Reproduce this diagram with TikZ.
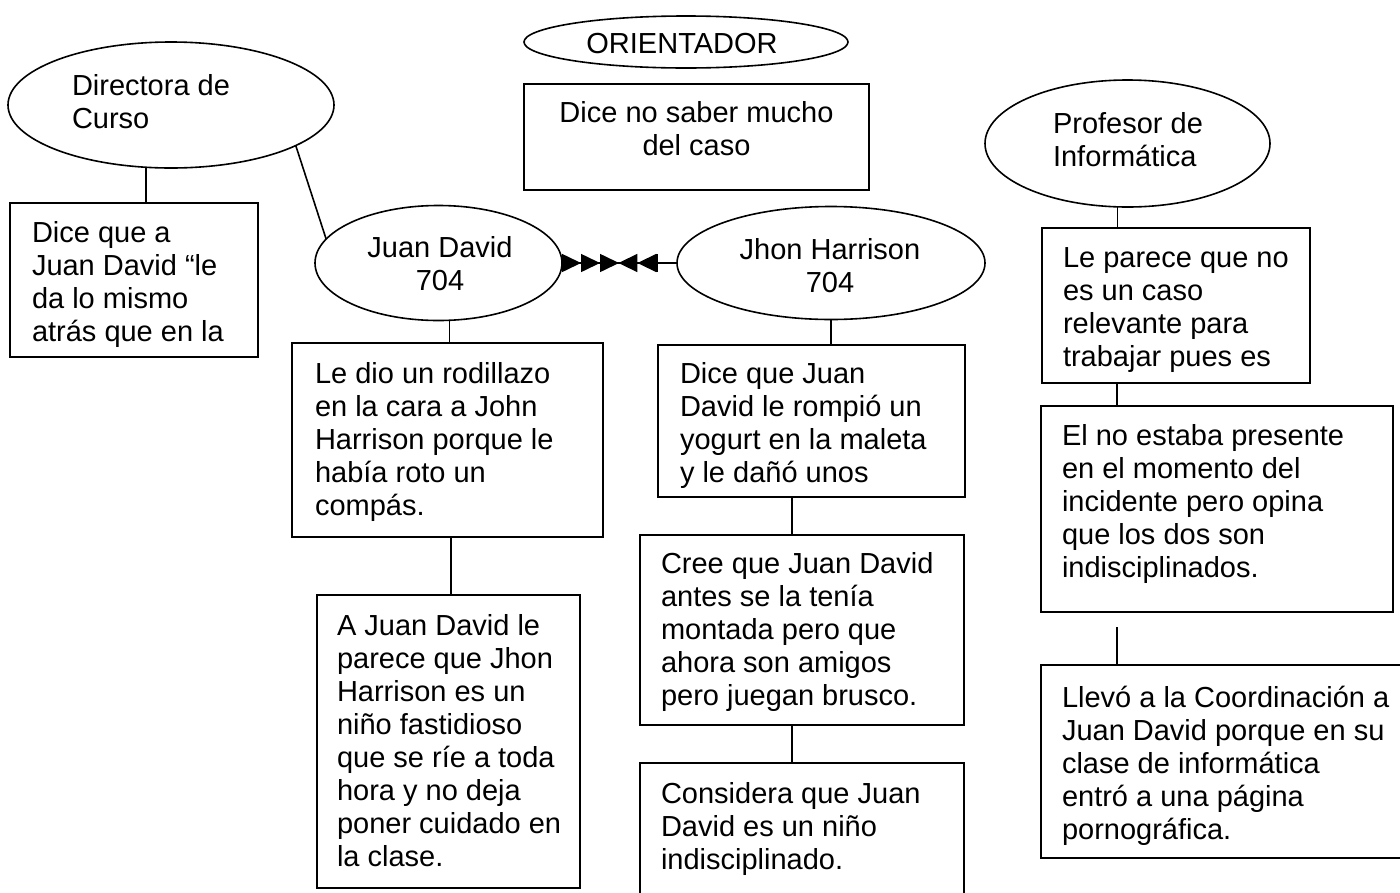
\documentclass[tikz,border=0pt]{standalone}
\usepackage{fontspec}
\setmainfont{Liberation Sans}
\usetikzlibrary{shapes.geometric,arrows.meta,calc}
\begin{document}
\begin{tikzpicture}[x=1pt,y=-1pt,line width=1.6pt,
  ell/.style={draw,ellipse,inner sep=0pt,outer sep=0pt},
  box/.style={draw,rectangle,inner sep=0pt,outer sep=0pt,anchor=north west},
  txt/.style={inner sep=0pt,outer sep=0pt,align=left,anchor=north west,font=\fontsize{29}{33}\selectfont},
  ctxt/.style={txt,align=center,anchor=north},
  conn/.style={line width=1.6pt}]
\fill[white] (0,0) rectangle (1400,892);
\useasboundingbox (0,0) rectangle (1400,892);

% ellipses
\node[ell,minimum width=326pt,minimum height=126pt] (dir) at (171,105) {};
\node[ell,minimum width=324pt,minimum height=52pt] (ori) at (686,42) {};
\node[ell,minimum width=247pt,minimum height=115pt] (jd) at (438.5,263) {};
\node[ell,minimum width=308pt,minimum height=113pt] (jh) at (831,263) {};
\node[ell,minimum width=285pt,minimum height=127pt] (prof) at (1127.5,143.5) {};

\node[txt] (dirt) at (72,74.6) {Directora de\\Curso};
\node[ctxt] (orit) at (682,33.6) {ORIENTADOR};
\node[ctxt] (jdt) at (440,236.6) {Juan David\\704};
\node[ctxt] (jht) at (830,238.6) {Jhon Harrison\\704};
\node[txt] (proft) at (1053,112.6) {Profesor de\\Informática};

% boxes
\node[box,minimum width=345pt,minimum height=106pt] (orib) at (524,84) {};
\node[box,minimum width=248pt,minimum height=154pt] (dirb) at (10,203) {};
\node[box,minimum width=311pt,minimum height=194pt] (jd1) at (292,343) {};
\node[box,minimum width=263pt,minimum height=293pt] (jd2) at (317,595) {};
\node[box,minimum width=307pt,minimum height=152pt] (jh1) at (658,345) {};
\node[box,minimum width=324pt,minimum height=190pt] (jh2) at (640,535) {};
\node[box,minimum width=324pt,minimum height=142pt] (jh3) at (640,763) {};
\node[box,minimum width=268pt,minimum height=155pt] (prof1) at (1042,228) {};
\node[box,minimum width=352pt,minimum height=206pt] (prof2) at (1041,406) {};
\node[box,minimum width=369pt,minimum height=193pt] (prof3) at (1041,665) {};

\node[ctxt] (oribt) at ([shift={(172.5,17.6)}]orib.north west) {Dice no saber mucho\\del caso};
\node[txt] (dirbt) at ([shift={(22,18.6)}]dirb.north west) {Dice que a\\Juan David “le\\da lo mismo\\atrás que en la};
\node[txt] (jd1t) at ([shift={(23,19.6)}]jd1.north west) {Le dio un rodillazo\\en la cara a John\\Harrison porque le\\había roto un\\compás.};
\node[txt] (jd2t) at ([shift={(20,19.6)}]jd2.north west) {A Juan David le\\parece que Jhon\\Harrison es un\\niño fastidioso\\que se ríe a toda\\hora y no deja\\poner cuidado en\\la clase.};
\node[txt] (jh1t) at ([shift={(22,17.6)}]jh1.north west) {Dice que Juan\\David le rompió un\\yogurt en la maleta\\y le dañó unos};
\node[txt] (jh2t) at ([shift={(21,17.6)}]jh2.north west) {Cree que Juan David\\antes se la tenía\\montada pero que\\ahora son amigos\\pero juegan brusco.};
\node[txt] (jh3t) at ([shift={(21,19.6)}]jh3.north west) {Considera que Juan\\David es un niño\\indisciplinado.};
\node[txt] (prof1t) at ([shift={(21,19.6)}]prof1.north west) {Le parece que no\\es un caso\\relevante para\\trabajar pues es};
\node[txt] (prof2t) at ([shift={(21,18.6)}]prof2.north west) {El no estaba presente\\en el momento del\\incidente pero opina\\que los dos son\\indisciplinados.};
\node[txt] (prof3t) at ([shift={(21,21.6)}]prof3.north west) {Llevó a la Coordinación a\\Juan David porque en su\\clase de informática\\entró a una página\\pornográfica.};

% connectors
\draw[conn] (dir.-112.7) -- (dir.-112.7 |- dirb.north);
\draw[conn] (dir.-18.7) -- (jd.168);
\draw[conn] (jd.-79.6) -- (jd.-79.6 |- jd1.north);
\coordinate (c1) at ($(jd1.south west)!0.511!(jd1.south east)$);
\draw[conn] (c1) -- (c1 |- jd2.north);
\draw[conn] (jh.south) -- (jh.south |- jh1.north);
\coordinate (c2) at ($(jh1.south west)!0.4365!(jh1.south east)$);
\draw[conn] (c2) -- (c2 |- jh2.north);
\coordinate (c3) at ($(jh2.south west)!0.469!(jh2.south east)$);
\draw[conn] (c3) -- (c3 |- jh3.north);
\draw[conn] (prof.-99.4) -- (prof.-99.4 |- prof1.north);
\coordinate (c4) at ($(prof1.south west)!0.28!(prof1.south east)$);
\draw[conn] (c4) -- (c4 |- prof2.north);
\coordinate (c5) at ($(prof2.south west)!0.216!(prof2.south east)+(0,15)$);
\draw[conn] (c5) -- (c5 |- prof3.north);

% double-headed connector
\coordinate (ab) at ($(jh.west)+(-19,0)$);
\draw[conn,{Triangle[reversed,length=19pt,width=18pt,sep=0pt]Triangle[reversed,length=19pt,width=18pt,sep=0pt]Triangle[reversed,length=19pt,width=18pt,sep=0pt]}-{Triangle[reversed,length=19pt,width=18pt,sep=0pt]Triangle[reversed,length=19pt,width=18pt,sep=0pt]Bar[width=18pt,sep=0pt]}] (jd.east) -- (ab);
\draw[conn] (ab) -- (jh.west);
\end{tikzpicture}
\end{document}
